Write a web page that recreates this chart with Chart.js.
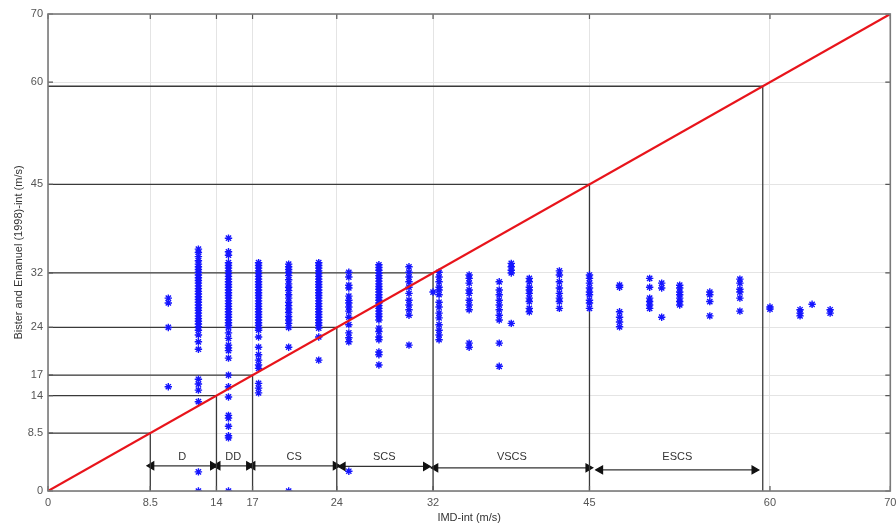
<!DOCTYPE html>
<html>
  <head>
    <script src="https://cdn.jsdelivr.net/npm/chart.js@4.4.1/dist/chart.umd.min.js"></script>
    <style>
      body {
        margin: 0;
        background: #ffffff;
        font-family: "Liberation Sans", Arial, sans-serif;
      }
      #chart {
        display: block;
      }
    </style>
  </head>
  <body>
    <canvas id="chart" width="896" height="527"></canvas>
    <script>
      // tick positions (m/s), same on both axes
      const tickValues = [0, 8.5, 14, 17, 24, 32, 45, 60, 70];

      // IMD intensity columns (m/s)
      const imdX = [10, 12.5, 15, 17.5, 20, 22.5, 25, 27.5, 30, 32, 32.5, 35, 37.5, 38.5, 40, 42.5, 45, 47.5, 50, 51, 52.5, 55, 57.5, 60, 62.5, 63.5, 65];

      // Bister & Emanuel intensity for each IMD column (m/s)
      const beY = [
        [28.3, 27.6, 24.0, 15.3],
        [35.5, 35.0, 34.4, 33.8, 33.3, 32.9, 32.5, 32.1, 31.7, 31.3, 30.9, 30.5, 30.1, 29.7, 29.3, 28.9, 28.5, 28.1, 27.7, 27.3, 26.9, 26.5, 26.1, 25.7, 25.3, 24.9, 24.5, 24.1, 23.6, 22.9, 21.9, 20.8, 16.4, 15.7, 14.8, 13.1, 2.8, 0],
        [37.1, 35.1, 34.6, 33.5, 33.1, 32.7, 32.3, 31.9, 31.5, 31.1, 30.7, 30.3, 29.9, 29.5, 29.1, 28.7, 28.3, 27.9, 27.5, 27.1, 26.7, 26.3, 25.9, 25.5, 25.1, 24.7, 24.3, 24.0, 23.2, 22.4, 21.4, 21.0, 20.6, 19.5, 17.0, 15.3, 13.8, 11.1, 10.7, 9.5, 8.1, 7.8, 0],
        [33.5, 33.1, 32.7, 32.3, 31.9, 31.5, 31.1, 30.7, 30.3, 29.9, 29.5, 29.1, 28.7, 28.3, 27.9, 27.5, 27.1, 26.7, 26.3, 25.9, 25.5, 25.1, 24.7, 24.3, 23.9, 23.6, 22.6, 21.1, 20.0, 19.2, 18.5, 18.0, 15.8, 15.1, 14.4],
        [33.3, 32.9, 32.5, 32.1, 31.6, 31.0, 30.4, 29.9, 29.4, 28.8, 28.3, 27.7, 27.2, 26.7, 26.2, 25.6, 25.1, 24.6, 24.0, 21.1, 0],
        [33.5, 33.1, 32.7, 32.3, 31.9, 31.5, 31.1, 30.7, 30.3, 29.9, 29.5, 29.1, 28.7, 28.3, 27.9, 27.5, 27.1, 26.7, 26.3, 25.9, 25.5, 25.1, 24.7, 24.3, 23.9, 22.6, 19.2],
        [32.1, 31.4, 30.2, 29.8, 28.6, 28.0, 27.6, 27.0, 26.4, 25.5, 24.4, 23.2, 22.5, 21.9, 2.9],
        [33.2, 32.8, 32.4, 32.0, 31.6, 31.2, 30.8, 30.4, 30.0, 29.6, 29.2, 28.8, 28.4, 28.0, 27.6, 27.2, 26.8, 26.4, 26.0, 25.6, 25.1, 23.9, 23.4, 22.6, 22.2, 20.4, 20.0, 18.5],
        [32.9, 32.1, 31.4, 30.7, 29.9, 29.0, 28.0, 27.3, 26.6, 25.8, 21.4],
        [29.2],
        [32.1, 31.4, 30.7, 29.9, 29.5, 28.8, 27.7, 27.0, 26.1, 25.4, 24.4, 23.6, 22.9, 22.2],
        [31.7, 31.2, 30.5, 29.5, 29.0, 28.0, 27.3, 26.6, 21.7, 21.1],
        [30.7, 29.5, 28.8, 28.0, 27.3, 26.6, 25.8, 25.1, 21.7, 18.3],
        [33.4, 32.9, 32.4, 32.0, 24.6],
        [31.2, 30.7, 29.9, 29.5, 29.0, 28.3, 27.8, 26.8, 26.3],
        [32.3, 31.7, 30.7, 29.8, 29.0, 28.3, 27.8, 26.8],
        [31.7, 31.2, 30.5, 29.8, 29.2, 28.8, 28.0, 27.6, 26.8],
        [30.2, 29.9, 26.3, 25.5, 24.8, 24.1],
        [31.2, 29.9, 28.3, 27.8, 27.3, 26.8],
        [30.5, 29.8, 25.5],
        [30.2, 29.8, 29.2, 28.8, 28.3, 27.8, 27.3],
        [29.2, 28.8, 27.8, 25.7],
        [31.1, 30.5, 29.6, 29.2, 28.3, 26.4],
        [27.0, 26.7],
        [26.6, 26.1, 25.7],
        [27.4],
        [26.6, 26.1]
      ];

      // category thresholds: reference lines go from the axes to the 1:1 line
      const thresholds = [8.5, 14, 17, 24, 32, 45, 59.4];

      // category arrows: name, start, end, height (m/s)
      const catNames = ['D', 'DD', 'CS', 'SCS', 'VSCS', 'ESCS'];
      const catStart = [8.6, 14.1, 17.0, 24.5, 32.2, 45.9];
      const catEnd = [13.7, 16.7, 23.9, 31.4, 44.9, 58.7];
      const catLevel = [3.7, 3.7, 3.7, 3.6, 3.4, 3.1];

      const points = [];
      imdX.forEach(function(x, i) {
        beY[i].forEach(function(y) {
          points.push({ x: x, y: y });
        });
      });

      const datasets = [];

      datasets.push({
        label: '1:1',
        data: [{ x: 0, y: 0 }, { x: 70, y: 70 }],
        showLine: true,
        borderColor: '#e8141b',
        borderWidth: 2.2,
        pointRadius: 0,
        order: 0
      });

      datasets.push({
        label: 'cases',
        data: points,
        pointStyle: 'star',
        pointRadius: 3.7,
        borderColor: '#1515ff',
        backgroundColor: '#1515ff',
        pointBorderWidth: 1.4,
        order: 1
      });

      thresholds.forEach(function(v) {
        datasets.push({
          data: [{ x: 0, y: v }, { x: v, y: v }],
          showLine: true,
          borderColor: '#3a3a3a',
          borderWidth: 1.3,
          pointRadius: 0,
          order: 2
        });
        datasets.push({
          data: [{ x: v, y: v }, { x: v, y: 0 }],
          showLine: true,
          borderColor: '#3a3a3a',
          borderWidth: 1.3,
          pointRadius: 0,
          order: 2
        });
      });

      catNames.forEach(function(name, i) {
        datasets.push({
          data: [{ x: catStart[i], y: catLevel[i] }, { x: catEnd[i], y: catLevel[i] }],
          showLine: true,
          borderColor: '#333333',
          borderWidth: 1.2,
          pointStyle: 'triangle',
          pointRadius: 4.5,
          pointRotation: [-90, 90],
          pointBackgroundColor: '#111111',
          pointBorderColor: '#111111',
          order: 3
        });
      });

      // frame with inward ticks, like the original figure
      const framePlugin = {
        id: 'frame',
        afterDatasetsDraw: function(chart) {
          const ctx = chart.ctx;
          const a = chart.chartArea;
          const xs = chart.scales.x;
          const ys = chart.scales.y;

          ctx.save();
          ctx.font = '11px "Liberation Sans", Arial, sans-serif';
          ctx.fillStyle = '#333333';
          ctx.textAlign = 'center';
          ctx.textBaseline = 'middle';
          catNames.forEach(function(name, i) {
            const mid = (catStart[i] + catEnd[i]) / 2;
            ctx.fillText(name, xs.getPixelForValue(mid), ys.getPixelForValue(5.0));
          });

          ctx.strokeStyle = '#555555';
          ctx.lineWidth = 1.2;
          ctx.beginPath();
          tickValues.forEach(function(v) {
            const px = xs.getPixelForValue(v);
            ctx.moveTo(px, a.top);
            ctx.lineTo(px, a.top + 5);
            ctx.moveTo(px, a.bottom);
            ctx.lineTo(px, a.bottom - 5);
            const py = ys.getPixelForValue(v);
            ctx.moveTo(a.left, py);
            ctx.lineTo(a.left + 5, py);
            ctx.moveTo(a.right, py);
            ctx.lineTo(a.right - 5, py);
          });
          ctx.stroke();

          ctx.strokeStyle = '#7a7a7a';
          ctx.lineWidth = 1.6;
          ctx.strokeRect(a.left, a.top, a.right - a.left, a.bottom - a.top);
          ctx.restore();
        }
      };

      function setTicks(scale) {
        scale.ticks = tickValues.map(function(v) { return { value: v }; });
      }

      const ctx = document.getElementById('chart').getContext('2d');
      new Chart(ctx, {
        type: 'scatter',
        data: { datasets: datasets },
        plugins: [framePlugin],
        options: {
          responsive: false,
          animation: false,
          devicePixelRatio: 1,
          layout: {
            padding: { top: 14, right: 3, left: 0, bottom: 0 }
          },
          plugins: {
            legend: { display: false },
            tooltip: { enabled: false }
          },
          scales: {
            x: {
              type: 'linear',
              min: 0,
              max: 70,
              afterBuildTicks: setTicks,
              afterFit: function(scale) {
                scale.height = 36;
                scale.paddingRight = 0;
                scale.paddingLeft = 0;
              },
              border: { display: false },
              grid: { color: '#e4e4e4', lineWidth: 1, drawTicks: false },
              ticks: {
                autoSkip: false,
                maxRotation: 0,
                padding: 5,
                color: '#555555',
                font: { family: '"Liberation Sans", Arial, sans-serif', size: 11 },
                callback: function(v) { return String(v); }
              },
              title: {
                display: true,
                text: 'IMD-int (m/s)',
                color: '#333333',
                padding: { top: 2, bottom: 2 },
                font: { family: '"Liberation Sans", Arial, sans-serif', size: 11 }
              }
            },
            y: {
              type: 'linear',
              min: 0,
              max: 70,
              afterBuildTicks: setTicks,
              afterFit: function(scale) { scale.width = 48; },
              border: { display: false },
              grid: { color: '#e4e4e4', lineWidth: 1, drawTicks: false },
              ticks: {
                autoSkip: false,
                padding: 5,
                color: '#555555',
                font: { family: '"Liberation Sans", Arial, sans-serif', size: 11 },
                callback: function(v) { return String(v); }
              },
              title: {
                display: true,
                text: 'Bister and Emanuel (1998)-int (m/s)',
                color: '#333333',
                padding: { top: 12, bottom: 0 },
                font: { family: '"Liberation Sans", Arial, sans-serif', size: 11 }
              }
            }
          }
        }
      });
    </script>
  </body>
</html>
